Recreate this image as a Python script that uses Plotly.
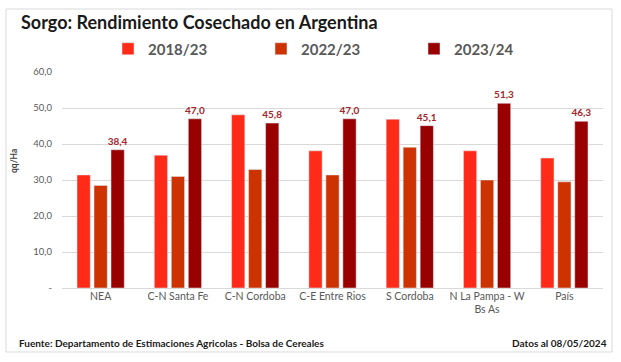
import plotly.graph_objects as go

categories = ["NEA", "C-N Santa Fe", "C-N Cordoba", "C-E Entre Rios", "S Cordoba", "N La Pampa - W<br>Bs As", "País"]
s2018 = [31.4, 36.9, 48.1, 38.1, 46.9, 38.1, 36.1]
s2022 = [28.5, 31.0, 32.9, 31.4, 39.1, 30.0, 29.5]
s2023 = [38.4, 47.0, 45.8, 47.0, 45.1, 51.3, 46.3]
series_names = ["2018/23", "2022/23", "2023/24"]
colors = ["#FF2A17", "#CC3300", "#990000"]
tick_vals = [0, 10, 20, 30, 40, 50, 60]
tick_text = ["-", "10,0", "20,0", "30,0", "40,0", "50,0", "60,0"]

W, H = 621, 362
L, R, T, B = 62, 603, 72, 288


def px(x):
    return (x - L) / (R - L)


def py(y):
    return (B - y) / (B - T)


fig = go.Figure()
for name, vals, col in zip(series_names, [s2018, s2022, s2023], colors):
    is_last = name == "2023/24"
    fig.add_trace(go.Bar(
        x=categories, y=vals, name=name, marker_color=col,
        text=["<b>" + f"{v:.1f}".replace(".", ",") + "</b>" for v in vals] if is_last else None,
        textposition="outside" if is_last else None,
        constraintext="none",
        textfont=dict(family="Lato", size=10, color="#A3262A"),
        cliponaxis=False,
    ))

fig.update_layout(
    width=W, height=H,
    margin=dict(l=L, r=W - R, t=T, b=H - B),
    paper_bgcolor="white", plot_bgcolor="white",
    barmode="group", bargap=0.34, bargroupgap=0.22,
    font=dict(family="Lato", color="#595959"),
    showlegend=True,
    legend=dict(orientation="h", x=px(108), xanchor="left", y=py(49), yanchor="middle",
                entrywidth=108, entrywidthmode="pixels",
                font=dict(family="Lato", size=15, color="#595959", weight="bold"),
                bgcolor="rgba(0,0,0,0)", traceorder="normal"),
    xaxis=dict(showgrid=False, showline=False, ticks="",
               tickfont=dict(family="Lato", size=10.5, color="#595959")),
    yaxis=dict(range=[0, 60], tickvals=tick_vals, ticktext=tick_text,
               showgrid=True, gridcolor="#D9D9D9", gridwidth=1,
               zeroline=True, zerolinecolor="#D9D9D9", zerolinewidth=1,
               showline=False, ticks="", ticklabelstandoff=9,
               tickfont=dict(family="Lato", size=9.5, color="#595959")),
    shapes=[dict(type="rect", xref="paper", yref="paper",
                 x0=px(6), x1=px(612), y0=py(352), y1=py(9),
                 line=dict(color="#D9D9D9", width=1), layer="below")],
    annotations=[
        dict(text="<b>Sorgo: Rendimiento Cosechado en Argentina</b>", xref="paper", yref="paper",
             x=px(19), y=py(22), xanchor="left", yanchor="middle", showarrow=False,
             font=dict(family="Lato", size=18, color="#1a1a1a")),
        dict(text="<b>qq/Ha</b>", xref="paper", yref="paper", x=px(14), y=py(161),
             xanchor="center", yanchor="middle", textangle=-90, showarrow=False,
             font=dict(family="Lato", size=8.5, color="#404040")),
        dict(text="<b>Fuente: Departamento de Estimaciones Agricolas - Bolsa de Cereales</b>",
             xref="paper", yref="paper", x=px(17), y=py(343), xanchor="left", yanchor="middle",
             showarrow=False, font=dict(family="Lato", size=10, color="#1a1a1a")),
        dict(text="<b>Datos al 08/05/2024</b>", xref="paper", yref="paper", x=px(609), y=py(343),
             xanchor="right", yanchor="middle", showarrow=False,
             font=dict(family="Lato", size=10, color="#1a1a1a")),
    ],
)

fig.write_html("out.html", config={"displayModeBar": False},
               post_script="document.body.style.margin='0';")
